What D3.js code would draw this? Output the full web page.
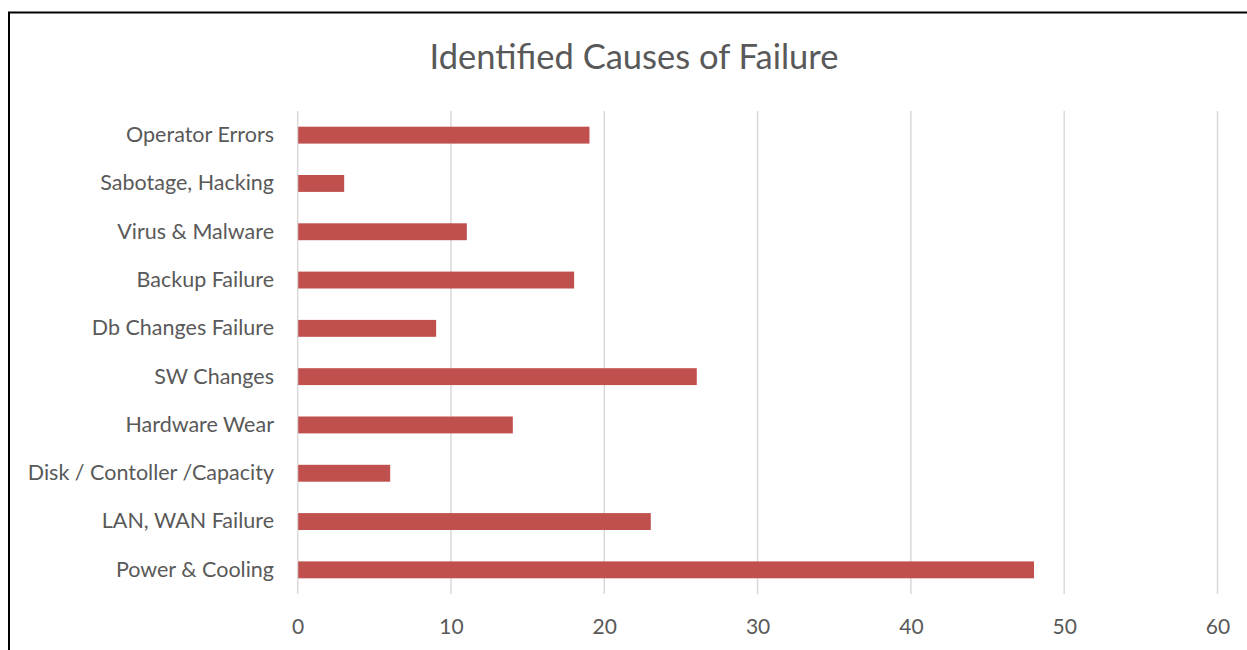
<!DOCTYPE html>
<html><head><meta charset="utf-8">
<script src="https://cdn.jsdelivr.net/npm/d3@7"></script>
<style>
html,body{margin:0;padding:0;background:#fff;}
svg{display:block;}
text{font-family:Lato,"Open Sans",sans-serif;fill:#595959;}
</style></head>
<body>
<svg id="chart" width="1247" height="650"></svg>
<script>
const title = "Identified Causes of Failure";
const categories = ["Operator Errors","Sabotage, Hacking","Virus & Malware","Backup Failure","Db Changes Failure","SW Changes","Hardware Wear","Disk / Contoller /Capacity","LAN, WAN Failure","Power & Cooling"];
const values = [19,3,11,18,9,26,14,6,23,48];
const xTicks = [0,10,20,30,40,50,60];

const svg = d3.select("#chart");
// outer frame
svg.append("rect").attr("x",9).attr("y",12.5).attr("width",1260).attr("height",700)
  .attr("fill","none").attr("stroke","#000").attr("stroke-width",2);

const x = d3.scaleLinear().domain([0,60]).range([297.7,1217.5]);
const y = d3.scaleBand().domain(categories).range([111,594]).paddingInner(0.65).paddingOuter(0.325);

// gridlines
svg.append("g").selectAll("line").data(xTicks).join("line")
  .attr("x1",d=>x(d)).attr("x2",d=>x(d)).attr("y1",111).attr("y2",594)
  .attr("stroke","#d9d9d9").attr("stroke-width",1.5);

// bars
svg.append("g").selectAll("rect").data(values).join("rect")
  .attr("x",x(0)+0.5).attr("y",(d,i)=>y(categories[i]))
  .attr("width",d=>x(d)-x(0)).attr("height",y.bandwidth())
  .attr("fill","#C0504D");

// x axis labels
const xa = svg.append("g").attr("transform","translate(0,594)")
  .call(d3.axisBottom(x).tickValues(xTicks).tickSize(0).tickPadding(25));
xa.select(".domain").remove();
xa.selectAll("text").style("font-size","21px").style("fill","#595959").style("font-family","Lato,'Open Sans',sans-serif");

// y axis labels
const ya = svg.append("g").attr("transform","translate(297,0)")
  .call(d3.axisLeft(y).tickSize(0).tickPadding(23));
ya.select(".domain").remove();
ya.selectAll("text").style("font-size","21.5px").style("fill","#595959").style("font-family","Lato,'Open Sans',sans-serif");

svg.append("text").attr("x",634).attr("y",69).attr("text-anchor","middle")
  .style("font-size","34.5px").text(title);
</script>
</body></html>
